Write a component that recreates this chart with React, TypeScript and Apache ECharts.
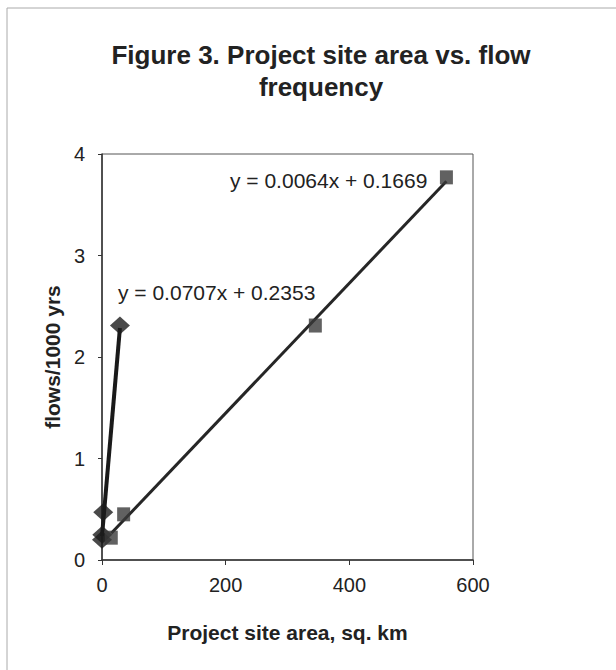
import React, { useEffect, useRef } from "react";
import * as echarts from "echarts";

// Series A (diamonds)
const diamondX = [0, 0.5, 2, 29];
const diamondY = [0.2, 0.25, 0.47, 2.31];
// Series B (squares)
const squareX = [15, 35, 345, 557];
const squareY = [0.22, 0.45, 2.31, 3.77];
// Trendline coefficients (as printed on the chart)
const trendA = { slope: 0.0707, intercept: 0.2353, label: "y = 0.0707x + 0.2353" };
const trendB = { slope: 0.0064, intercept: 0.1669, label: "y = 0.0064x + 0.1669" };
const xTicks = [0, 200, 400, 600];
const yTicks = [0, 1, 2, 3, 4];

const FONT = "'Liberation Sans', Arial, sans-serif";

function trendPoints(xs: number[], t: { slope: number; intercept: number }) {
  const lo = Math.min(...xs);
  const hi = Math.max(...xs);
  return [
    [lo, t.slope * lo + t.intercept],
    [hi, t.slope * hi + t.intercept],
  ];
}

export default function App() {
  const ref = useRef<HTMLDivElement>(null);
  useEffect(() => {
    if (!ref.current) return;
    const chart = echarts.init(ref.current, undefined, { renderer: "svg" });
    chart.setOption({
      animation: false,
      backgroundColor: "#ffffff",
      title: {
        text: "Figure 3. Project site area vs. flow\nfrequency",
        left: 316,
        top: 34,
        textAlign: "center",
        textStyle: {
          fontFamily: FONT,
          fontSize: 26,
          fontWeight: "bold",
          color: "#222",
          lineHeight: 32,
        },
      },
      grid: {
        left: 102,
        right: 143,
        top: 154,
        bottom: 110,
        show: true,
        borderColor: "#555",
        borderWidth: 1,
        backgroundColor: "transparent",
      },
      xAxis: {
        type: "value",
        min: xTicks[0],
        max: xTicks[xTicks.length - 1],
        interval: 200,
        name: "Project site area, sq. km",
        nameLocation: "middle",
        nameGap: 62,
        nameTextStyle: { fontFamily: FONT, fontSize: 21, fontWeight: "bold", color: "#222" },
        axisLine: { show: true, lineStyle: { color: "#333", width: 1.5 } },
        axisTick: { show: true, length: 5, lineStyle: { color: "#333" } },
        axisLabel: { fontFamily: FONT, fontSize: 20, color: "#222", margin: 15 },
        splitLine: { show: false },
      },
      yAxis: {
        type: "value",
        min: yTicks[0],
        max: yTicks[yTicks.length - 1],
        interval: 1,
        name: "flows/1000 yrs",
        nameLocation: "middle",
        nameGap: 37,
        nameTextStyle: { fontFamily: FONT, fontSize: 21, fontWeight: "bold", color: "#222" },
        axisLine: { show: true, lineStyle: { color: "#333", width: 1.5 } },
        axisTick: { show: true, length: 4, lineStyle: { color: "#333" } },
        axisLabel: { fontFamily: FONT, fontSize: 20, color: "#222", margin: 17 },
        splitLine: { show: false },
      },
      series: [
        {
          type: "line",
          data: trendPoints(diamondX, trendA),
          showSymbol: false,
          lineStyle: { color: "#1a1a1a", width: 4 },
          z: 2,
        },
        {
          type: "line",
          data: trendPoints(squareX, trendB),
          showSymbol: false,
          lineStyle: { color: "#262626", width: 3 },
          z: 2,
        },
        {
          type: "scatter",
          data: diamondX.map((x, i) => [x, diamondY[i]]),
          symbol: "diamond",
          symbolSize: [20, 18],
          itemStyle: { color: "#1c1c1c" },
          z: 3,
        },
        {
          type: "scatter",
          data: squareX.map((x, i) => [x, squareY[i]]),
          symbol: "rect",
          symbolSize: [13, 14],
          itemStyle: { color: "#3a3a3a" },
          z: 3,
        },
      ],
      graphic: [
        {
          type: "rect",
          shape: { x: 7, y: 8, width: 660, height: 700 },
          style: { fill: "none", stroke: "#aaa", lineWidth: 1 },
          silent: true,
        },
        {
          type: "text",
          x: 118,
          y: 292,
          style: {
            text: trendA.label,
            font: `21px ${FONT}`,
            fill: "#222",
            textVerticalAlign: "middle",
          },
        },
        {
          type: "text",
          x: 230,
          y: 180,
          style: {
            text: trendB.label,
            font: `21px ${FONT}`,
            fill: "#222",
            textVerticalAlign: "middle",
          },
        },
      ],
    });
    return () => chart.dispose();
  }, []);
  return (
    <div
      ref={ref}
      style={{ position: "fixed", left: 0, top: 0, width: 616, height: 670 }}
    />
  );
}
